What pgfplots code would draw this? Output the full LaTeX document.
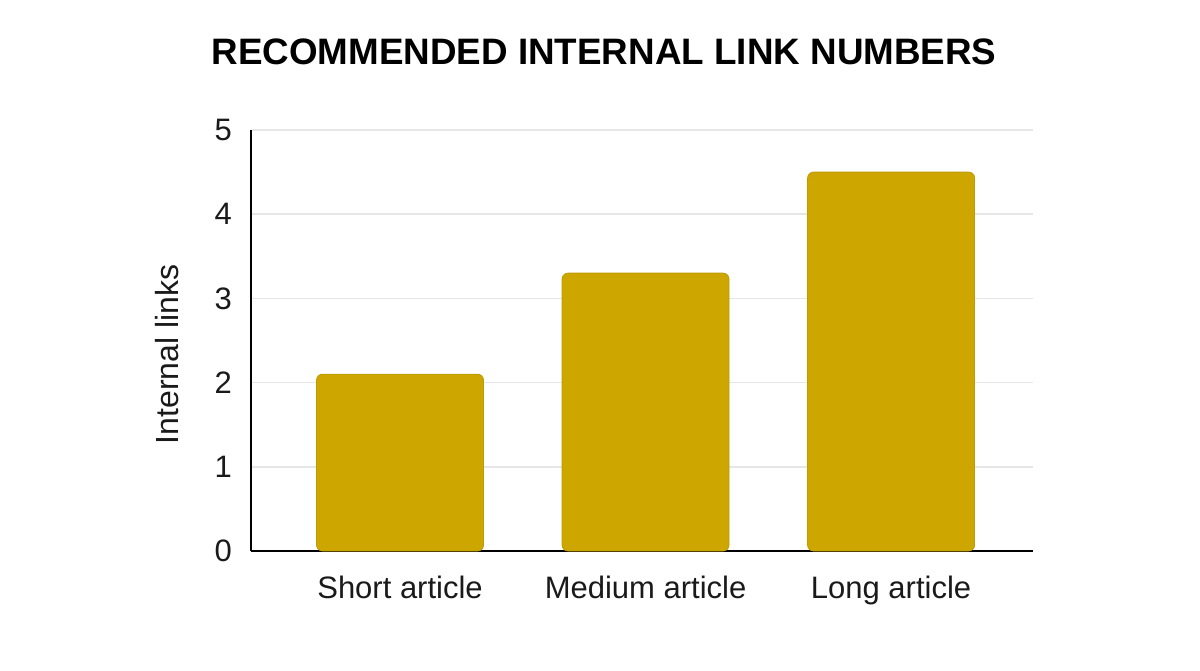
\documentclass[border=0pt]{standalone}
\usepackage{pgfplots}
\pgfplotsset{compat=1.18}
\usepackage{fontspec}
\setmainfont{Liberation Sans}
\definecolor{barfill}{HTML}{CDA600}
\definecolor{baredge}{HTML}{BF9B00}
\definecolor{gridgray}{HTML}{E6E6E6}
\definecolor{txt}{HTML}{1A1A1A}

\begin{document}
\begin{tikzpicture}[x=0.5pt,y=0.5pt]
  % page frame
  \path[fill=white] (0,0) rectangle (1200,670);
  % chart title
  \node[font=\fontsize{18.4}{22}\selectfont\bfseries, text=black] at (604,618) {RECOMMENDED INTERNAL LINK NUMBERS};
  \begin{axis}[
    at={(251*0.5pt,119*0.5pt)}, anchor=south west,
    scale only axis,
    width=391pt, height=210.5pt,
    xmin=-0.607, xmax=2.578,
    ymin=0, ymax=5,
    ytick={0,1,2,3,4,5},
    xtick={0,1,2},
    xticklabels={Short article, Medium article, Long article},
    axis x line*=bottom, axis y line*=left,
    axis line style={black, line width=0.9pt},
    x axis line style={-}, y axis line style={-},
    major tick length=0pt,
    ymajorgrids, grid style={gridgray, line width=0.8pt},
    tick label style={font=\fontsize{15.5}{17}\selectfont, text=txt},
    /pgf/number format/assume math mode=true,
    yticklabel style={xshift=-6pt},
    xticklabel style={yshift=-9pt},
    ylabel={Internal links},
    ylabel style={font=\fontsize{16}{18}\selectfont, text=txt, yshift=11pt, xshift=-7pt},
    ybar, bar width=83.5pt,
    clip=false,
  ]
    \addplot[fill=barfill, draw=baredge, line width=0.4pt, rounded corners=3pt]
      coordinates {(0,2.1) (1,3.3) (2,4.5)};
  \end{axis}
\end{tikzpicture}
\end{document}
